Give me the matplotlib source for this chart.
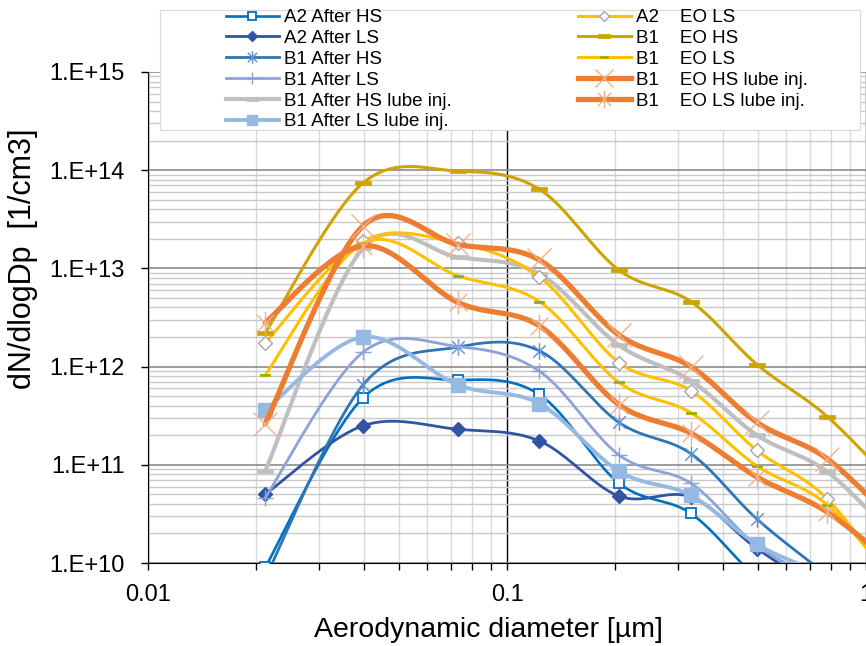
import numpy as np
import matplotlib
matplotlib.use("Agg")
import matplotlib.pyplot as plt
from matplotlib.path import Path
from matplotlib.lines import Line2D
from matplotlib.patches import Rectangle
from matplotlib.ticker import LogLocator, FuncFormatter, NullFormatter

plt.rcParams['font.family'] = ['Liberation Sans', 'DejaVu Sans']

# stage diameters (last one lies just outside the axis)
diam = [0.0212, 0.0397, 0.073, 0.123, 0.205, 0.325, 0.497, 0.78, 1.24]

a2_after_hs = [9e9, 4.8e11, 7.3e11, 5.2e11, 6.5e10, 3.2e10, 7e9, 2e9, 5e8]
a2_after_ls = [5.0e10, 2.5e11, 2.3e11, 1.75e11, 4.8e10, 4.7e10, 1.4e10, 5e9, 2e9]
b1_after_hs = [7e9, 6.5e11, 1.58e12, 1.45e12, 2.7e11, 1.3e11, 2.8e10, 7.5e9, 2e9]
b1_after_ls = [4.6e10, 1.4e12, 1.6e12, 9e11, 1.26e11, 6.5e10, 1.5e10, 6e9, 2e9]
b1_after_hs_lube = [8.6e10, 1.6e13, 1.3e13, 8.8e12, 1.65e12, 7.2e11, 2e11, 8.5e10, 1.6e10]
b1_after_ls_lube = [3.6e11, 2.0e12, 6.5e11, 4.2e11, 8.6e10, 4.9e10, 1.55e10, 7e9, 2e9]
a2_eo_ls = [1.74e12, 1.9e13, 1.8e13, 8.2e12, 1.1e12, 5.7e11, 1.4e11, 4.5e10, 4.8e9]
b1_eo_hs = [2.2e12, 7.4e13, 9.8e13, 6.4e13, 9.6e12, 4.6e12, 1.05e12, 3.1e11, 5.5e10]
b1_eo_ls = [8.2e11, 1.8e13, 8.4e12, 4.6e12, 6.9e11, 3.4e11, 9.7e10, 3.9e10, 5.3e9]
b1_eo_hs_lube = [2.6e11, 2.7e13, 1.75e13, 1.22e13, 2.1e12, 1.0e12, 2.7e11, 1.15e11, 2.3e10]
b1_eo_ls_lube = [2.8e12, 1.7e13, 4.5e12, 2.6e12, 4.1e11, 2.1e11, 7.5e10, 3.3e10, 8.5e9]

labels = ["A2 After HS", "A2 After LS", "B1 After HS", "B1 After LS",
          "B1 After HS lube inj.", "B1 After LS lube inj.",
          "A2    EO LS", "B1    EO HS", "B1    EO LS",
          "B1    EO HS lube inj.", "B1    EO LS lube inj."]
series = [a2_after_hs, a2_after_ls, b1_after_hs, b1_after_ls,
          b1_after_hs_lube, b1_after_ls_lube,
          a2_eo_ls, b1_eo_hs, b1_eo_ls, b1_eo_hs_lube, b1_eo_ls_lube]

# custom markers
star = Path([(0, -1), (0, 1), (-0.75, -0.75), (0.75, 0.75), (-0.75, 0.75), (0.75, -0.75)],
            [Path.MOVETO, Path.LINETO, Path.MOVETO, Path.LINETO, Path.MOVETO, Path.LINETO])
dash = [(-1, -0.3), (1, -0.3), (1, 0.3), (-1, 0.3), (-1, -0.3)]

# line colour, line width, marker, marker size, face, edge, edge width
styles = [
    ('#0070C0', 1.9, 's', 7, 'white', '#0070C0', 1.3),
    ('#2F55A4', 2.0, 'D', 7, '#2F55A4', '#2F55A4', 1.0),
    ('#2E75B6', 2.0, star, 12, 'none', '#5B8FD0', 1.0),
    ('#8EA2DA', 2.0, '+', 12, 'none', '#8EA2DA', 1.0),
    ('#BFBFBF', 3.0, dash, 11, '#BFBFBF', '#BFBFBF', 0.5),
    ('#95B9E3', 2.8, 's', 10, '#95B9E3', '#95B9E3', 1.0),
    ('#FFC000', 2.2, 'D', 7, 'white', '#A6A6A6', 1.0),
    ('#CFA300', 2.2, dash, 11, '#CFA300', '#CFA300', 0.5),
    ('#FFC000', 2.2, dash, 7, '#70AD47', '#B8B000', 0.8),
    ('#ED7D31', 3.8, 'x', 17, 'none', '#F4B08A', 1.0),
    ('#ED7D31', 3.8, star, 17, 'none', '#F4B08A', 1.0),
]


def smooth(xs, ys, n=40):
    # Excel-like smoothed line: Bezier segments in log-log space
    p = np.column_stack([np.log10(xs), np.log10(ys)])
    pp = np.vstack([p[0], p, p[-1]])
    t = np.linspace(0, 1, n)[:, None]
    out = []
    for i in range(len(p) - 1):
        p0, p1, p2, p3 = pp[i], pp[i + 1], pp[i + 2], pp[i + 3]
        c1 = p1 + (p2 - p0) / 6
        c2 = p2 - (p3 - p1) / 6
        seg = (1 - t) ** 3 * p1 + 3 * (1 - t) ** 2 * t * c1 + 3 * (1 - t) * t ** 2 * c2 + t ** 3 * p2
        out.append(seg)
    out = np.vstack(out)
    return 10 ** out[:, 0], 10 ** out[:, 1]


fig = plt.figure(figsize=(8.66, 6.46), dpi=100)
ax = fig.add_axes([148 / 866, 83 / 646, 718 / 866, 491 / 646])

handles = []
for k, (vals, st) in enumerate(zip(series, styles)):
    col, lw, mk, ms, mfc, mec, mew = st
    sx, sy = smooth(diam, vals)
    ax.plot(sx, sy, color=col, lw=lw, solid_capstyle='round', zorder=3 + k)
    ax.plot(diam, vals, ls='none', marker=mk, ms=ms, mfc=mfc, mec=mec, mew=mew, zorder=3 + k)
    handles.append(Line2D([], [], color=col, lw=lw, marker=mk, ms=ms * 0.75,
                          mfc=mfc, mec=mec, mew=mew))

ax.set_xscale('log')
ax.set_yscale('log')
ax.set_xlim(0.01, 1)
ax.set_ylim(1e10, 1e15)

ax.xaxis.set_major_locator(LogLocator(base=10))
ax.xaxis.set_minor_locator(LogLocator(base=10, subs=np.arange(2, 10)))
ax.yaxis.set_major_locator(LogLocator(base=10))
ax.yaxis.set_minor_locator(LogLocator(base=10, subs=np.arange(2, 10)))
ax.xaxis.set_major_formatter(FuncFormatter(lambda v, p: '%g' % v))
ax.xaxis.set_minor_formatter(NullFormatter())
ax.yaxis.set_major_formatter(FuncFormatter(lambda v, p: '1.E+%d' % round(np.log10(v))))
ax.yaxis.set_minor_formatter(NullFormatter())

ax.grid(which='major', axis='x', color='black', lw=1.0, zorder=1)
ax.grid(which='major', axis='y', color='#8C8C8C', lw=1.2, zorder=1)
ax.grid(which='minor', axis='x', color='#D9D9D9', lw=1.0, zorder=0)
ax.grid(which='minor', axis='y', color='#C8C8C8', lw=1.0, zorder=0)
ax.set_axisbelow(True)

for s in ['top', 'right']:
    ax.spines[s].set_visible(False)
ax.spines['left'].set_color('black')
ax.spines['bottom'].set_color('black')

ax.tick_params(axis='both', which='major', labelsize=17, length=5, width=1, color='black')
ax.tick_params(axis='x', which='major', pad=10)
ax.tick_params(axis='y', which='major', pad=11.5)
ax.tick_params(axis='x', which='minor', length=5, width=1, color='black')
ax.tick_params(axis='y', which='minor', length=0)

ax.set_xlabel('Aerodynamic diameter [µm]', fontsize=20.5)
ax.xaxis.set_label_coords(0.4735, -0.110)
ax.set_ylabel('dN/dlogDp  [1/cm3]', fontsize=22)
ax.yaxis.set_label_coords(-0.1535, 0.619)

# legend box and two columns of entries
fig.add_artist(Rectangle((160 / 866, 1 - 130 / 646), 700 / 866, 120 / 646,
                         transform=fig.transFigure, fc='white', ec='#D9D9D9', lw=0.8))
fig.legend(handles[:6], labels[:6], loc='upper left', bbox_to_anchor=(226 / 866, 1 - 9 / 646),
           frameon=False, borderpad=0, borderaxespad=0, handlelength=2.8,
           handletextpad=0.3, labelspacing=0.2, fontsize=13.5)
fig.legend(handles[6:], labels[6:], loc='upper left', bbox_to_anchor=(578 / 866, 1 - 9 / 646),
           frameon=False, borderpad=0, borderaxespad=0, handlelength=2.8,
           handletextpad=0.3, labelspacing=0.2, fontsize=13.5)

fig.savefig('out.png', dpi=100)
